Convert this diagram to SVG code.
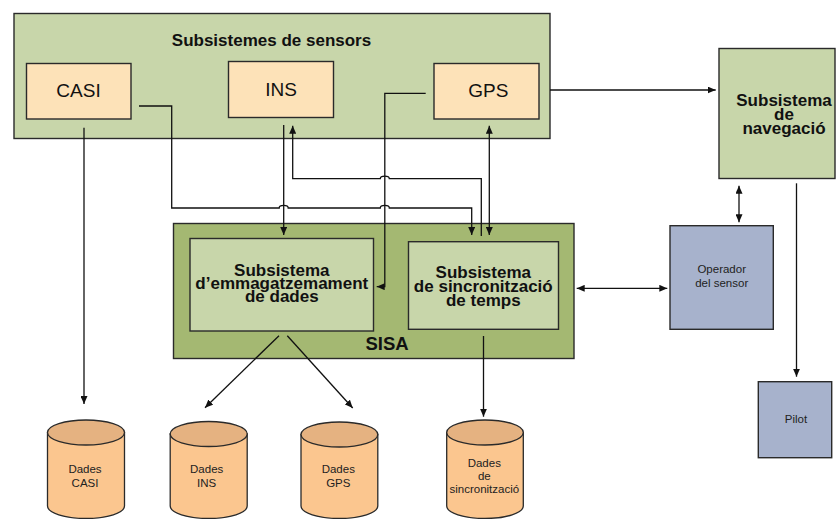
<svg xmlns="http://www.w3.org/2000/svg" width="836" height="519" viewBox="0 0 836 519">
<defs>
<marker id="ah" viewBox="0 0 8 7" refX="8" refY="3.5" markerWidth="8" markerHeight="7" markerUnits="userSpaceOnUse" orient="auto-start-reverse">
<path d="M0,0 L8,3.5 L0,7 z" fill="#111"/>
</marker>
<style>
.box{stroke:#2a2a2a;stroke-width:1.4}
.sage{fill:#c8d6aa}
.olive{fill:#a4b872}
.peach{fill:#fde2b8}
.slate{fill:#a7b2cc}
.cylb{fill:#fbc68f;stroke:#2a2a2a;stroke-width:1.3}
.cylt{fill:#e5b281;stroke:#2a2a2a;stroke-width:1.3}
.bold{font-family:"Liberation Sans",Arial,sans-serif;font-weight:bold;font-size:17px;fill:#111;text-anchor:middle}
.lbl{font-family:"Liberation Sans",Arial,sans-serif;font-size:19px;fill:#111;text-anchor:middle}
.sm{font-family:"Liberation Sans",Arial,sans-serif;font-size:11.5px;fill:#222;text-anchor:middle}
.ln{fill:none;stroke:#111;stroke-width:1.3}
.arr{marker-end:url(#ah)}
.bi{marker-start:url(#ah);marker-end:url(#ah)}
</style>
</defs>

<g id="sensors">
<rect class="box sage" x="14" y="13.5" width="536" height="125"/>
<text class="bold" x="271.5" y="46">Subsistemes de sensors</text>
</g>
<g id="casi">
<rect class="box peach" x="26.5" y="63.5" width="104.5" height="55.5"/>
<text class="lbl" x="78.5" y="97">CASI</text>
</g>
<g id="ins">
<rect class="box peach" x="228.5" y="61.5" width="105" height="56"/>
<text class="lbl" x="281" y="96">INS</text>
</g>
<g id="gps">
<rect class="box peach" x="434" y="63.5" width="105" height="55.5"/>
<text class="lbl" x="488.3" y="97">GPS</text>
</g>

<g id="sisa">
<rect class="box olive" x="173.5" y="223.5" width="400.5" height="135"/>
<text class="bold" x="387" y="350" style="font-size:18.5px">SISA</text>
</g>
<g id="storage">
<rect class="box sage" x="190" y="238.5" width="183.5" height="92.5"/>
<text class="bold" x="281.8" y="275.7">Subsistema</text>
<text class="bold" x="281.8" y="289">d’emmagatzemament</text>
<text class="bold" x="281.8" y="302.3">de dades</text>
</g>
<g id="sync">
<rect class="box sage" x="408.5" y="241.7" width="150" height="87.6"/>
<text class="bold" x="483.3" y="278">Subsistema</text>
<text class="bold" x="483.3" y="292">de sincronització</text>
<text class="bold" x="483.3" y="306">de temps</text>
</g>

<g id="nav">
<rect class="box sage" x="719" y="48.5" width="116" height="130"/>
<text class="bold" x="784" y="105.7">Subsistema</text>
<text class="bold" x="784" y="120">de</text>
<text class="bold" x="784" y="134">navegació</text>
</g>
<g id="operator">
<rect class="box slate" x="670" y="225.7" width="103.3" height="103.6"/>
<text class="sm" x="721.7" y="273.3">Operador</text>
<text class="sm" x="721.7" y="287.3">del sensor</text>
</g>
<g id="pilot">
<rect class="box slate" x="758.3" y="381.7" width="73.4" height="76"/>
<text class="sm" x="796" y="423.3">Pilot</text>
</g>

<g id="db-casi">
<path class="cylb" d="M47.5,432.5 V506 A38.5,12.5 0 0 0 124.5,506 V432.5 Z"/>
<ellipse class="cylt" cx="86" cy="432.5" rx="38.5" ry="12.5"/>
<text class="sm" x="85" y="473.3">Dades</text>
<text class="sm" x="85" y="486.7">CASI</text>
</g>
<g id="db-ins">
<path class="cylb" d="M170.2,434 V506 A38.5,12.5 0 0 0 247.2,506 V434 Z"/>
<ellipse class="cylt" cx="208.7" cy="434" rx="38.5" ry="12.5"/>
<text class="sm" x="206.7" y="473.3">Dades</text>
<text class="sm" x="206.7" y="486.7">INS</text>
</g>
<g id="db-gps">
<path class="cylb" d="M301,434.5 V506 A38.4,12.5 0 0 0 377.8,506 V434.5 Z"/>
<ellipse class="cylt" cx="339.4" cy="434.5" rx="38.4" ry="12.5"/>
<text class="sm" x="338.3" y="473.3">Dades</text>
<text class="sm" x="338.3" y="486.7">GPS</text>
</g>
<g id="db-sync">
<path class="cylb" d="M446.7,432.5 V506 A38.3,12.5 0 0 0 523.3,506 V432.5 Z"/>
<ellipse class="cylt" cx="485" cy="432.5" rx="38.3" ry="12.5"/>
<text class="sm" x="484.3" y="466.7">Dades</text>
<text class="sm" x="484.3" y="480">de</text>
<text class="sm" x="484.3" y="493.3">sincronització</text>
</g>

<g id="connectors">
<path class="ln arr" d="M84,127.7 V404"/>
<path class="ln arr" d="M139,106 H171.7 V208 H279.2 c0,-3.5 9,-3.5 9,0 H380.3 c0,-3.5 9,-3.5 9,0 H471.7 V235"/>
<path class="ln arr" d="M283.7,125 V235"/>
<path class="ln arr" d="M481.3,236 V178.7 H389.3 c0,-3.5 -9,-3.5 -9,0 H292.7 V125.7"/>
<path class="ln arr" d="M425.7,93.3 H384.8 V286.7 H376.7"/>
<path class="ln bi" d="M489.3,125.7 V235"/>
<path class="ln arr" d="M550,90 H715.7"/>
<path class="ln bi" d="M739,185.7 V222.3"/>
<path class="ln arr" d="M796.5,183.3 V376.7"/>
<path class="ln bi" d="M576.7,288.3 H667.3"/>
<path class="ln arr" d="M279,335.7 L205,407.7"/>
<path class="ln arr" d="M287.3,335.7 L352.7,408"/>
<path class="ln arr" d="M483.5,336 V416.7"/>
</g>
</svg>
